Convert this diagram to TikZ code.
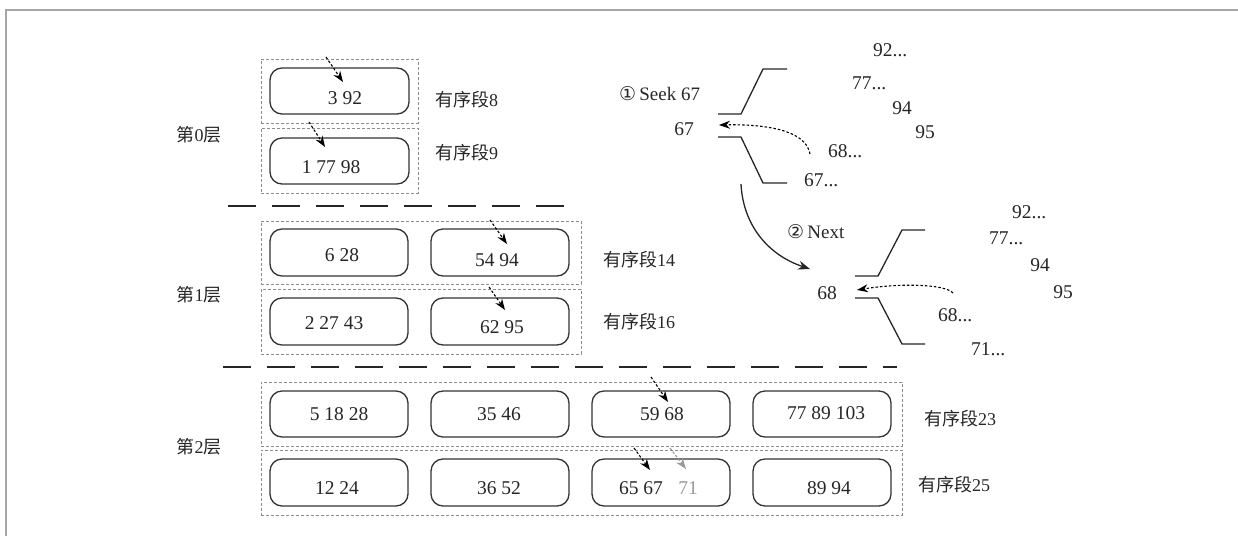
\documentclass[tikz,border=0pt]{standalone}
\usepackage{fontspec}
\setmainfont{Liberation Serif}
\newfontfamily\cjk{Noto Sans CJK SC}
\newfontfamily\symf{DejaVu Sans}
\usetikzlibrary{arrows.meta}
\tikzset{
  rbox/.style={draw=black!80, line width=1.3pt, rounded corners=12pt, minimum width=138pt, minimum height=46pt, inner sep=0pt},
  segbox/.style={draw=black!45, line width=0.9pt, dash pattern=on 3pt off 2pt, inner sep=0pt},
  num/.style={font=\fontsize{19.5}{22}\selectfont, text=black!85, inner sep=0pt},
  lab/.style={font=\fontsize{18}{22}\selectfont, text=black!85, inner sep=0pt, anchor=west},
  lvl/.style={font=\fontsize{18}{22}\selectfont, text=black!85, inner sep=0pt},
  dotarr/.style={draw=black, line width=1.1pt, dash pattern=on 2.5pt off 2pt, -{Stealth[length=11pt,width=8pt]}},
  grayarr/.style={draw=black!40, line width=1.1pt, dash pattern=on 2.5pt off 2pt, -{Stealth[length=11pt,width=8pt]}},
  sepline/.style={line width=1.3pt, draw=black!85, dash pattern=on 28pt off 16pt},
  forkline/.style={line width=1.3pt, draw=black!85},
  bigarr/.style={line width=1.3pt, draw=black!85, -{Stealth[length=12pt,width=9pt]}},
}
\begin{document}
\begin{tikzpicture}[x=1pt,y=-1pt]
\useasboundingbox (0,0) rectangle (1238,536);
\draw[line width=2pt, draw=black!35] (6,536) -- (6,10) -- (1238,10);

% ---------- Level 0 ----------
\node[segbox, minimum width=157pt, minimum height=64pt] (s8) at (339.5,91) {};
\node[segbox, minimum width=157pt, minimum height=65pt] (s9) at (339.5,160.5) {};
\node[rbox, minimum width=139pt] (b00) at (339.5,91) {};
\node[rbox, minimum width=139pt] (b01) at (339.5,161) {};
\node[num] (t00) at (345,98) {3 92};
\node[num] (t01) at (331,167) {1 77 98};
\coordinate (a00s) at (326,57); \coordinate (a00e) at (343,82);
\coordinate (a01s) at (309,122); \coordinate (a01e) at (325,147);
\draw[dotarr] (a00s) -- (a00e);
\draw[dotarr] (a01s) -- (a01e);
\node[lab] (l8) at (435,100) {{\cjk 有序段}8};
\node[lab] (l9) at (435,153) {{\cjk 有序段}9};
\node[lvl] (L0) at (199,135) {{\cjk 第}0{\cjk 层}};

\coordinate (sep1a) at (228,206); \coordinate (sep1b) at (567,206);
\draw[sepline] (sep1a) -- (sep1b);

% ---------- Level 1 ----------
\node[segbox, minimum width=320pt, minimum height=63pt] (s14) at (421,252.5) {};
\node[segbox, minimum width=320pt, minimum height=65pt] (s16) at (421,321.5) {};
\node[rbox, minimum height=47pt] (b10) at (339,252.5) {};
\node[rbox, minimum height=47pt] (b11) at (500,252.5) {};
\node[rbox, minimum height=47pt] (b12) at (339,321.5) {};
\node[rbox, minimum height=47pt] (b13) at (500,321.5) {};
\node[num] (t10) at (342,255) {6 28};
\node[num] (t11) at (497,260) {54 94};
\node[num] (t12) at (334,323) {2 27 43};
\node[num] (t13) at (502,327) {62 95};
\coordinate (a10s) at (490,220); \coordinate (a10e) at (507,244);
\coordinate (a11s) at (489,287); \coordinate (a11e) at (505,310);
\draw[dotarr] (a10s) -- (a10e);
\draw[dotarr] (a11s) -- (a11e);
\node[lab] (l14) at (603,260) {{\cjk 有序段}14};
\node[lab] (l16) at (603,322) {{\cjk 有序段}16};
\node[lvl] (L1) at (199,295) {{\cjk 第}1{\cjk 层}};

\coordinate (sep2a) at (223,367); \coordinate (sep2b) at (897,367);
\draw[sepline] (sep2a) -- (sep2b);

% ---------- Level 2 ----------
\node[segbox, minimum width=641pt, minimum height=64pt] (s23) at (581.5,414) {};
\node[segbox, minimum width=641pt, minimum height=65pt] (s25) at (581.5,482.5) {};
\node[rbox] (b20) at (339,414) {};
\node[rbox] (b21) at (500,414) {};
\node[rbox] (b22) at (661,414) {};
\node[rbox] (b23) at (822,414) {};
\node[rbox, minimum height=47pt] (b24) at (339,482.5) {};
\node[rbox, minimum height=47pt] (b25) at (500,482.5) {};
\node[rbox, minimum height=47pt] (b26) at (661,482.5) {};
\node[rbox, minimum height=47pt] (b27) at (822,482.5) {};
\node[num] (t20) at (339,414) {5 18 28};
\node[num] (t21) at (499,414) {35 46};
\node[num] (t22) at (662,414) {59 68};
\node[num] (t23) at (826,413) {77 89 103};
\node[num] (t24) at (337,488) {12 24};
\node[num] (t25) at (499,488) {36 52};
\node[num] (t26) at (641,488) {65 67};
\node[num, text=black!40] (t26b) at (688,488) {71};
\node[num] (t27) at (829,488) {89 94};
\coordinate (a20s) at (651,377); \coordinate (a20e) at (668,402);
\coordinate (a21s) at (634,448); \coordinate (a21e) at (650,470);
\coordinate (a22s) at (670,448); \coordinate (a22e) at (686,469);
\draw[dotarr] (a20s) -- (a20e);
\draw[dotarr] (a21s) -- (a21e);
\draw[grayarr] (a22s) -- (a22e);
\node[lab] (l23) at (924,419) {{\cjk 有序段}23};
\node[lab] (l25) at (918,485) {{\cjk 有序段}25};
\node[lvl] (L2) at (199,447) {{\cjk 第}2{\cjk 层}};

% ---------- Right: Seek ----------
\node[lab, font=\fontsize{19}{22}\selectfont] (seek) at (619,94) {{\symf ①}\,Seek 67};
\node[num] (k67) at (684,129) {67};
\coordinate (f1a) at (718,114); \coordinate (f1b) at (741,114);
\coordinate (f1c) at (763,69);  \coordinate (f1d) at (787,69);
\coordinate (f1e) at (718,137); \coordinate (f1f) at (741,137);
\coordinate (f1g) at (763,183); \coordinate (f1h) at (787,183);
\draw[forkline] (f1a) -- (f1b) -- (f1c) -- (f1d);
\draw[forkline] (f1e) -- (f1f) -- (f1g) -- (f1h);
\node[num, anchor=west] (r92) at (873,50) {92...};
\node[num, anchor=west] (r77) at (852,83) {77...};
\node[num] (r94) at (902,108) {94};
\node[num] (r95) at (925,132) {95};
\node[num, anchor=west] (r68) at (828,151) {68...};
\node[num, anchor=west] (r67) at (804,180) {67...};
\coordinate (d1s) at (810,154); \coordinate (d1e) at (719,125);
\draw[dotarr] (d1s) .. controls (806,130) and (765,124) .. (d1e);

% ---------- Next arrow ----------
\coordinate (n1s) at (741,184); \coordinate (n1e) at (810,269);
\draw[bigarr] (n1s) .. controls (743,225) and (768,255) .. (n1e);
\node[lab, font=\fontsize{19}{22}\selectfont] (nxt) at (787,232) {{\symf ②}\,Next};

% ---------- Right: after Next ----------
\node[num] (k68) at (827,293) {68};
\coordinate (f2a) at (855,276); \coordinate (f2b) at (878,276);
\coordinate (f2c) at (902,230); \coordinate (f2d) at (925,230);
\coordinate (f2e) at (855,298); \coordinate (f2f) at (878,298);
\coordinate (f2g) at (902,344); \coordinate (f2h) at (925,344);
\draw[forkline] (f2a) -- (f2b) -- (f2c) -- (f2d);
\draw[forkline] (f2e) -- (f2f) -- (f2g) -- (f2h);
\node[num, anchor=west] (q92) at (1012,212) {92...};
\node[num, anchor=west] (q77) at (989,238) {77...};
\node[num] (q94) at (1040,265) {94};
\node[num] (q95) at (1063,292) {95};
\node[num, anchor=west] (q68) at (938,315) {68...};
\node[num, anchor=west] (q71) at (971,349) {71...};
\coordinate (d2s) at (953,293); \coordinate (d2e) at (857,290);
\draw[dotarr] (d2s) .. controls (945,284) and (900,283) .. (d2e);
\end{tikzpicture}
\end{document}
